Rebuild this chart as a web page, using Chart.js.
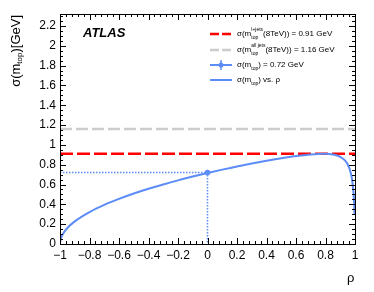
<!DOCTYPE html>
<html>
<head>
<meta charset="utf-8">
<script src="https://cdn.jsdelivr.net/npm/chart.js@4/dist/chart.umd.min.js"></script>
<style>
  html, body { margin: 0; padding: 0; background: #fff; }
  #wrap { width: 374px; height: 292px; }
</style>
</head>
<body>
<div id="wrap"><canvas id="myChart" width="374" height="292"></canvas></div>
<script>
"use strict"

// combined uncertainty vs correlation rho
const rhoValues = [-0.999, -0.995, -0.99, -0.98, -0.95, -0.9, -0.8, -0.7, -0.6, -0.5, -0.4, -0.3, -0.2, -0.1,
    0, 0.1, 0.2, 0.3, 0.4, 0.5, 0.6, 0.7, 0.75, 0.8, 0.85, 0.9, 0.93, 0.95, 0.97, 0.98, 0.99, 0.995, 0.997];
const sigmaValues = [0.023, 0.051, 0.072, 0.102, 0.161, 0.228, 0.322, 0.395, 0.455, 0.509, 0.557, 0.601, 0.642, 0.680,
    0.716, 0.750, 0.782, 0.811, 0.839, 0.865, 0.887, 0.904, 0.909, 0.910, 0.903, 0.880, 0.846, 0.804, 0.724, 0.649, 0.515, 0.390, 0.300];

const sigmaLjets = 0.91;
const sigmaAllJets = 1.16;
const rhoComb = 0;
const sigmaComb = 0.72;

const legendLabels = [
    {pre: "σ(m", sup: "l+jets", sub: "top", post: "(8TeV)) = 0.91 GeV"},
    {pre: "σ(m", sup: "all jets", sub: "top", post: "(8TeV)) = 1.16 GeV"},
    {pre: "σ(m", sup: "", sub: "top", post: ") = 0.72 GeV"},
    {pre: "σ(m", sup: "", sub: "top", post: ") vs. ρ"}
];

const xMin = -1, xMax = 1;
const yMin = 0, yMax = 2.32;

const blue = "rgb(92,140,245)";
const red = "#ff0000";
const grey = "#cccccc";
const FONT = "'Liberation Sans', Arial, Helvetica, sans-serif";

document.addEventListener("DOMContentLoaded", init);

function fmt(v){
    if (Math.abs(v) < 1e-9) return "0";
    return String(Number(v.toFixed(1))).replace("-", "\u2212");
}

const rootFrame = {
    id: "rootFrame",
    afterDraw(chart){
        const ctx = chart.ctx;
        const a = chart.chartArea;
        const x = chart.scales.x, y = chart.scales.y;
        ctx.save();
        ctx.strokeStyle = "#000";
        ctx.lineWidth = 1;
        ctx.strokeRect(Math.round(a.left) + 0.5, Math.round(a.top) + 0.5,
            Math.round(a.right - a.left), Math.round(a.bottom - a.top));
        ctx.beginPath();
        for (let i = 0; i <= 50; i++){
            const v = xMin + i * 0.04;
            const len = (i % 5 === 0) ? 6 : 3;
            const px = Math.round(x.getPixelForValue(v)) + 0.5;
            ctx.moveTo(px, a.bottom); ctx.lineTo(px, a.bottom - len);
            ctx.moveTo(px, a.top); ctx.lineTo(px, a.top + len);
        }
        for (let i = 0; i <= 46; i++){
            const v = i * 0.05;
            const len = (i % 4 === 0) ? 6 : 3;
            const py = Math.round(y.getPixelForValue(v)) + 0.5;
            ctx.moveTo(a.left, py); ctx.lineTo(a.left + len, py);
            ctx.moveTo(a.right, py); ctx.lineTo(a.right - len, py);
        }
        ctx.stroke();

        // ATLAS label
        ctx.fillStyle = "#000";
        ctx.font = "italic bold 13px " + FONT;
        ctx.textBaseline = "middle";
        ctx.fillText("ATLAS", 83, 33);

        // axis titles
        ctx.font = "13px " + FONT;
        ctx.fillText("ρ", 347, 278);
        ctx.save();
        ctx.translate(16, 15);
        ctx.rotate(-Math.PI / 2);
        ctx.textAlign = "right";
        const t1 = ")[GeV]";
        let w = ctx.measureText(t1).width;
        ctx.fillText(t1, 0, 0);
        ctx.font = "8px " + FONT;
        const ts = "top";
        const ws = ctx.measureText(ts).width;
        ctx.fillText(ts, -w, 4);
        w += ws;
        ctx.font = "13px " + FONT;
        ctx.fillText("σ(m", -w, 0);
        ctx.restore();

        // legend
        const rows = [34, 50, 65, 80];
        const x0 = 210, x1 = 232, tx = 237;
        ctx.lineWidth = 2.5;
        ctx.setLineDash([9, 3]);
        ctx.strokeStyle = red;
        ctx.beginPath(); ctx.moveTo(x0, rows[0]); ctx.lineTo(x1, rows[0]); ctx.stroke();
        ctx.strokeStyle = grey;
        ctx.beginPath(); ctx.moveTo(x0, rows[1]); ctx.lineTo(x1, rows[1]); ctx.stroke();
        ctx.setLineDash([]);
        ctx.strokeStyle = blue;
        ctx.lineWidth = 2;
        ctx.beginPath(); ctx.moveTo(x0, rows[2]); ctx.lineTo(x1, rows[2]); ctx.stroke();
        ctx.lineWidth = 1.5;
        ctx.beginPath(); ctx.moveTo(221, rows[2] - 5); ctx.lineTo(221, rows[2] + 5); ctx.stroke();
        ctx.fillStyle = blue;
        ctx.beginPath(); ctx.arc(221, rows[2], 2.5, 0, Math.PI * 2); ctx.fill();
        ctx.lineWidth = 2;
        ctx.beginPath(); ctx.moveTo(x0, rows[3]); ctx.lineTo(x1, rows[3]); ctx.stroke();

        ctx.fillStyle = "#000";
        legendLabels.forEach((l, i) => {
            const yy = rows[i];
            let cx = tx;
            ctx.font = "8px " + FONT;
            ctx.fillText(l.pre, cx, yy);
            cx += ctx.measureText(l.pre).width;
            ctx.font = "5px " + FONT;
            let adv = ctx.measureText(l.sub).width;
            ctx.fillText(l.sub, cx, yy + 4);
            if (l.sup){
                ctx.fillText(l.sup, cx, yy - 4);
                adv = Math.max(adv, ctx.measureText(l.sup).width);
            }
            cx += adv;
            ctx.font = "8px " + FONT;
            ctx.fillText(l.post, cx, yy);
        });
        ctx.restore();
    }
};

function init(){
    const ctx = document.getElementById("myChart").getContext("2d");
    const curve = rhoValues.map((r, i) => ({x: r, y: sigmaValues[i]}));
    const myChart = new Chart(ctx, {
        type: "line",
        data: {
            datasets: [
                {
                    label: "curve",
                    data: curve,
                    borderColor: blue,
                    borderWidth: 2,
                    pointRadius: 0,
                    cubicInterpolationMode: "monotone",
                    order: 1
                },
                {
                    label: "comb point",
                    data: [{x: rhoComb, y: sigmaComb}],
                    showLine: false,
                    pointRadius: 2.5,
                    pointBackgroundColor: blue,
                    pointBorderColor: blue,
                    order: 0
                },
                {
                    label: "comb guide",
                    data: [{x: xMin, y: sigmaComb}, {x: rhoComb, y: sigmaComb}, {x: rhoComb, y: 0}],
                    borderColor: blue,
                    borderWidth: 1.5,
                    borderDash: [1.5, 1.5],
                    pointRadius: 0,
                    tension: 0,
                    order: 2
                },
                {
                    label: "ljets",
                    data: [{x: xMin, y: sigmaLjets}, {x: xMax, y: sigmaLjets}],
                    borderColor: red,
                    borderWidth: 2.5,
                    borderDash: [13, 4],
                    pointRadius: 0,
                    order: 3
                },
                {
                    label: "alljets",
                    data: [{x: xMin, y: sigmaAllJets}, {x: xMax, y: sigmaAllJets}],
                    borderColor: grey,
                    borderWidth: 2.5,
                    borderDash: [12, 4],
                    pointRadius: 0,
                    order: 4
                }
            ]
        },
        options: {
            responsive: false,
            animation: false,
            layout: { padding: { top: 14, right: 19, left: 0, bottom: 0 } },
            plugins: {
                legend: { display: false },
                tooltip: { enabled: false }
            },
            scales: {
                x: {
                    type: "linear",
                    min: xMin,
                    max: xMax,
                    grid: { display: false, drawTicks: false },
                    border: { display: false },
                    afterFit: (s) => { s.height = 48; },
                    ticks: {
                        stepSize: 0.2,
                        autoSkip: false,
                        maxRotation: 0,
                        padding: 4,
                        color: "#000",
                        font: { family: FONT, size: 12 },
                        callback: (v) => fmt(v)
                    }
                },
                y: {
                    min: yMin,
                    max: yMax,
                    grid: { display: false, drawTicks: false },
                    border: { display: false },
                    afterFit: (s) => { s.width = 60; },
                    ticks: {
                        stepSize: 0.2,
                        includeBounds: false,
                        autoSkip: false,
                        padding: 4,
                        color: "#000",
                        font: { family: FONT, size: 12 },
                        callback: (v) => fmt(v)
                    }
                }
            }
        },
        plugins: [rootFrame]
    });
}
</script>
</body>
</html>
